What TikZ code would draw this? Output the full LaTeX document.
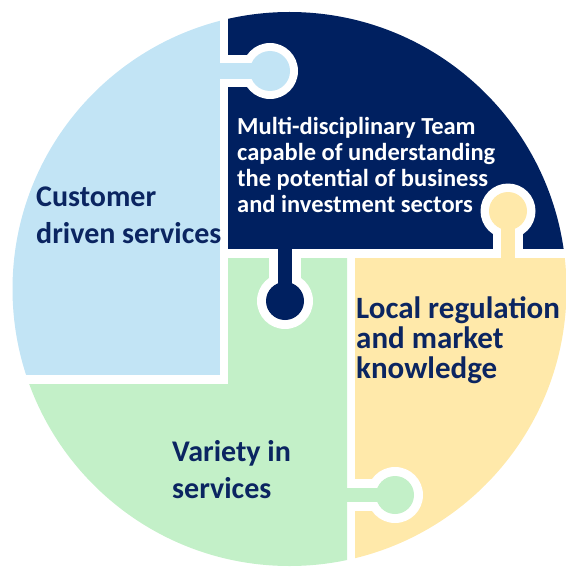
\documentclass[tikz,border=0pt]{standalone}
\usepackage{fontspec}
\setmainfont{Carlito}
\definecolor{lbc}{HTML}{C2E4F5}
\definecolor{dbc}{HTML}{002060}
\definecolor{ylc}{HTML}{FFE9AA}
\definecolor{grc}{HTML}{C3F0C8}
\definecolor{txc}{HTML}{0B2561}
\begin{document}
\begin{tikzpicture}[x=1pt,y=-1pt,
  lbl/.style={inner sep=0pt,anchor=north west,align=left},
  gap/.style={fill=white}]
\useasboundingbox (0,0) rectangle (566,567);
\begin{scope}
\clip (289.5,289) circle (277pt);
% pieces
\fill[lbc] (0,0) rectangle (220,375);
\fill[dbc] (228,0) rectangle (566,249);
\fill[ylc] (355,258) rectangle (566,567);
\fill[grc] (228,258) -- (347,258) -- (347,567) -- (0,567) -- (0,384) -- (228,384) -- cycle;
% tab 1: light blue into dark blue
\fill[gap] (228,55) rectangle (270,87);
\fill[gap] (270,71) circle (28pt);
\fill[lbc] (215,63) rectangle (270,79);
\fill[lbc] (270,71) circle (20pt);
% tab 2: dark blue into green
\fill[gap] (269,258) rectangle (301,301);
\fill[gap] (285,301) circle (28pt);
\fill[dbc] (278,245) rectangle (292,301);
\fill[dbc] (285,301) circle (19pt);
% tab 3: yellow into dark blue
\fill[gap] (493,211) rectangle (523,249);
\fill[gap] (508,211) circle (27.5pt);
\fill[ylc] (501,211) rectangle (515,262);
\fill[ylc] (508,211) circle (19pt);
% tab 4: green into yellow
\fill[gap] (355,479) rectangle (395,511);
\fill[gap] (395,495) circle (28pt);
\fill[grc] (343,488) rectangle (395,502);
\fill[grc] (395,495) circle (19pt);
\end{scope}
% labels
\node[lbl,text=txc,font=\bfseries\fontsize{30}{37}\selectfont] (cust) at (36,187) {Customer\\driven services};
\node[lbl,text=white,font=\bfseries\fontsize{24.5}{26}\selectfont] (team) at (237,117) {Multi-disciplinary Team\\capable of understanding\\the potential of business\\and investment sectors};
\node[lbl,text=txc,font=\bfseries\fontsize{31}{30}\selectfont] (local) at (356,296) {Local regulation\\and market\\knowledge};
\node[lbl,text=txc,font=\bfseries\fontsize{30}{37}\selectfont] (var) at (172,440) {Variety in\\services};
\end{tikzpicture}
\end{document}
